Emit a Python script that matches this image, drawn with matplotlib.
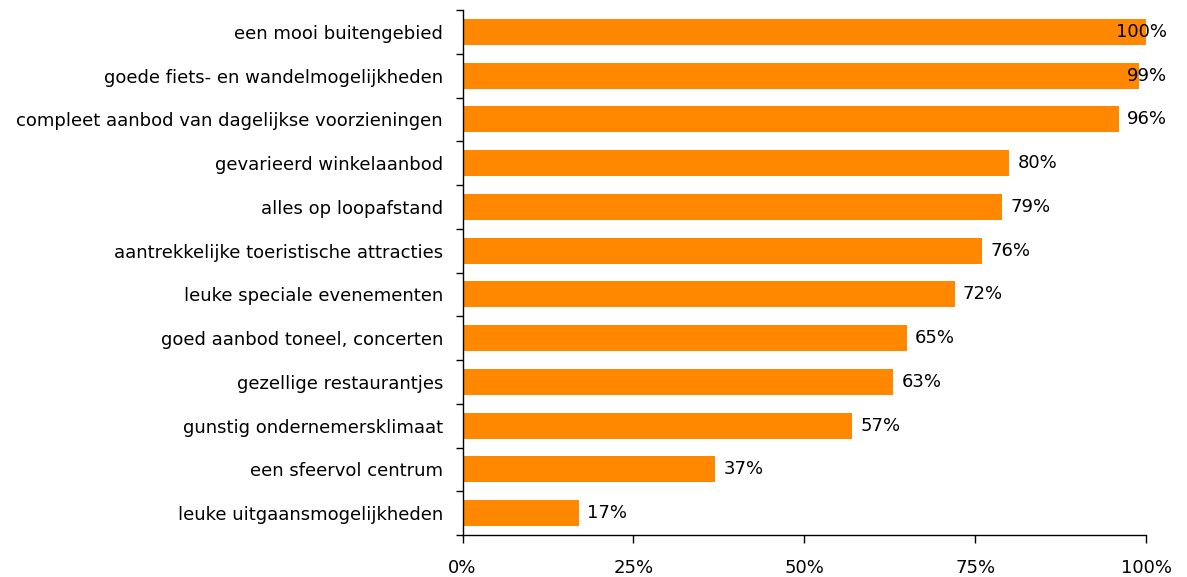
import matplotlib
matplotlib.use('Agg')
import matplotlib.pyplot as plt
from matplotlib.ticker import FixedLocator, FuncFormatter, NullFormatter
import numpy as np

# Data (top to bottom as shown)
labels = [
    'een mooi buitengebied',
    'goede fiets- en wandelmogelijkheden',
    'compleet aanbod van dagelijkse voorzieningen',
    'gevarieerd winkelaanbod',
    'alles op loopafstand',
    'aantrekkelijke toeristische attracties',
    'leuke speciale evenementen',
    'goed aanbod toneel, concerten',
    'gezellige restaurantjes',
    'gunstig ondernemersklimaat',
    'een sfeervol centrum',
    'leuke uitgaansmogelijkheden',
]
values = [100, 99, 96, 80, 79, 76, 72, 65, 63, 57, 37, 17]
x_ticks = [0, 25, 50, 75, 100]

plt.rcParams['font.family'] = ['DejaVu Sans']
bar_color = '#FF8800'
fs = 13

fig = plt.figure(figsize=(11.87, 5.77), dpi=100)
ax = fig.add_axes([462.5 / 1187, 1 - 535 / 577, (1146 - 462.5) / 1187, 525 / 577])

n = len(labels)
pos = np.arange(n)[::-1]
ax.barh(pos, values, height=0.59, color=bar_color, zorder=2)

# value labels just right of the bar, pulled back inside the chart near 100%
for p, v in zip(pos, values):
    if v > 96:
        ax.text(103.1, p, f'{v}%', ha='right', va='center', fontsize=fs, zorder=3)
    else:
        ax.text(v + 1.2, p, f'{v}%', ha='left', va='center', fontsize=fs, zorder=3)

ax.set_xlim(0, 100)
ax.set_ylim(-0.5, n - 0.5)

ax.xaxis.set_major_locator(FixedLocator(x_ticks))
ax.xaxis.set_major_formatter(FuncFormatter(lambda x, _: f'{x:.0f}%'))

# category labels at centres, tick marks at boundaries
ax.set_yticks(pos)
ax.set_yticklabels(labels, fontsize=fs)
ax.tick_params(axis='y', which='major', length=0, pad=14)
ax.yaxis.set_minor_locator(FixedLocator(np.arange(n + 1) - 0.5))
ax.yaxis.set_minor_formatter(NullFormatter())
ax.tick_params(axis='y', which='minor', length=5, width=1, direction='out')
ax.tick_params(axis='x', length=6, width=1, direction='out', labelsize=fs, pad=11)

for s in ['top', 'right']:
    ax.spines[s].set_visible(False)
ax.spines['left'].set_linewidth(1)
ax.spines['bottom'].set_linewidth(1)

fig.savefig('out.png', dpi=100)
